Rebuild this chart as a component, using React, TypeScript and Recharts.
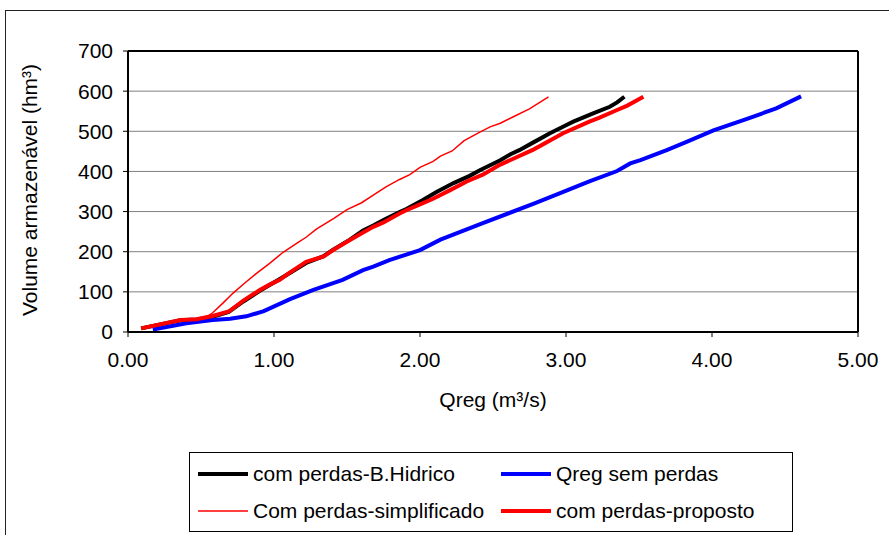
import { CartesianGrid, Legend, Line, LineChart, ReferenceLine, XAxis, YAxis } from 'recharts';

const FONT = '"Liberation Sans", Arial, sans-serif';

// com perdas - balanço hídrico
const hidricoQ = [0.09, 0.36, 0.47, 0.58, 0.69, 0.79, 0.9, 0.97, 1.04, 1.1, 1.22, 1.34, 1.4, 1.52, 1.61, 1.68, 1.75, 1.86, 1.91, 2.02, 2.11, 2.23, 2.34, 2.41, 2.55, 2.62, 2.68, 2.78, 2.89, 3.0, 3.05, 3.19, 3.3, 3.35, 3.4];
const hidricoV = [9, 29, 31, 38, 50, 76, 102, 117, 132, 145, 172, 189, 204, 230, 253, 265, 279, 299, 307, 329, 348, 371, 389, 403, 428, 443, 453, 473, 495, 515, 524, 545, 561, 572, 586];

// sem perdas
const semPerdasQ = [0.17, 0.4, 0.58, 0.7, 0.81, 0.93, 1.11, 1.27, 1.47, 1.61, 1.68, 1.79, 2.0, 2.14, 2.43, 2.78, 2.96, 3.16, 3.35, 3.44, 3.51, 3.69, 3.83, 4.01, 4.24, 4.44, 4.61];
const semPerdasV = [6, 22, 30, 33, 39, 52, 82, 105, 130, 154, 163, 179, 204, 230, 271, 320, 346, 375, 401, 420, 428, 453, 474, 502, 531, 557, 587];

// com perdas - simplificado
const simplesQ = [0.09, 0.36, 0.47, 0.55, 0.58, 0.65, 0.72, 0.8, 0.88, 0.97, 1.06, 1.16, 1.22, 1.29, 1.41, 1.5, 1.6, 1.68, 1.77, 1.86, 1.93, 2.0, 2.09, 2.14, 2.22, 2.3, 2.4, 2.48, 2.55, 2.65, 2.75, 2.88];
const simplesV = [9, 30, 32, 40, 48, 72, 97, 122, 146, 171, 198, 222, 236, 256, 283, 305, 322, 341, 362, 380, 392, 410, 425, 438, 451, 476, 496, 511, 520, 538, 556, 586];

// com perdas - proposto
const propostoQ = [0.09, 0.36, 0.47, 0.58, 0.69, 0.79, 0.9, 0.97, 1.04, 1.1, 1.22, 1.34, 1.4, 1.52, 1.61, 1.68, 1.75, 1.86, 1.91, 2.0, 2.09, 2.21, 2.32, 2.43, 2.55, 2.78, 2.98, 3.16, 3.23, 3.35, 3.42, 3.53];
const propostoV = [9, 30, 32, 40, 51, 78, 104, 118, 130, 146, 175, 188, 203, 229, 248, 262, 273, 295, 304, 318, 332, 354, 375, 392, 417, 455, 495, 524, 534, 553, 564, 586];

const xTicks = [0, 1, 2, 3, 4, 5];
const yTicks = [0, 100, 200, 300, 400, 500, 600, 700];

type Pt = { q: number; v: number };
const zip = (q: number[], v: number[]): Pt[] => q.map((x, i) => ({ q: x, v: v[i] }));

const series = [
  { name: 'com perdas-B.Hidrico', data: zip(hidricoQ, hidricoV), color: '#000000', width: 4 },
  { name: 'Qreg sem perdas', data: zip(semPerdasQ, semPerdasV), color: '#0000ff', width: 4 },
  { name: 'Com perdas-simplificado', data: zip(simplesQ, simplesV), color: '#ff0000', width: 1.5 },
  { name: 'com perdas-proposto', data: zip(propostoQ, propostoV), color: '#ff0000', width: 4 },
];

function LegendBox() {
  return (
    <div
      style={{
        width: 604,
        height: 80,
        boxSizing: 'border-box',
        border: '1px solid #000',
        background: '#fff',
        paddingTop: 2,
        display: 'grid',
        gridTemplateColumns: '303px 1fr',
        gridAutoRows: 37,
        fontFamily: FONT,
        fontSize: 21,
        color: '#000',
      }}
    >
      {series.map((s) => (
        <div key={s.name} style={{ display: 'flex', alignItems: 'center', paddingLeft: 8 }}>
          <svg width={50} height={10}>
            <line x1={0} x2={50} y1={5} y2={5} stroke={s.color} strokeWidth={s.width} />
          </svg>
          <span style={{ marginLeft: 5, whiteSpace: 'nowrap', lineHeight: 1 }}>{s.name}</span>
        </div>
      ))}
    </div>
  );
}

export default function App() {
  return (
    <div style={{ position: 'fixed', left: 0, top: 0, width: 889, height: 535, overflow: 'hidden', background: '#fff' }}>
      <div style={{ position: 'absolute', left: 5, top: 10, width: 1000, height: 1000, border: '1px solid #222' }} />
      <div style={{ position: 'absolute', left: 0, top: 0 }}>
        <LineChart width={889} height={535} margin={{ top: 51, right: 31, left: 0, bottom: 143 }}>
          <CartesianGrid vertical={false} stroke='#808080' strokeWidth={1} />
          <XAxis
            type='number'
            dataKey='q'
            domain={[0, 5]}
            ticks={xTicks}
            allowDuplicatedCategory={false}
            tickFormatter={(t: number) => t.toFixed(2)}
            height={60}
            tickSize={5}
            tickMargin={15}
            axisLine={{ stroke: '#000', strokeWidth: 2 }}
            tickLine={{ stroke: '#000' }}
            tick={{ fill: '#000', fontSize: 21, fontFamily: FONT }}
            label={{
              content: () => (
                <text x={493} y={407} textAnchor='middle' fill='#000' fontSize={21} fontFamily={FONT}>
                  Qreg (m³/s)
                </text>
              ),
            }}
          />
          <YAxis
            type='number'
            domain={[0, 700]}
            ticks={yTicks}
            width={128}
            tickSize={5}
            tickMargin={10}
            axisLine={{ stroke: '#000', strokeWidth: 2 }}
            tickLine={{ stroke: '#000' }}
            tick={{ fill: '#000', fontSize: 21, fontFamily: FONT }}
            label={{
              content: () => (
                <text
                  transform='translate(37,190) rotate(-90)'
                  textAnchor='middle'
                  fill='#000'
                  fontSize={21}
                  fontFamily={FONT}
                >
                  Volume armazenável (hm³)
                </text>
              ),
            }}
          />
          <ReferenceLine y={700} stroke='#000' strokeWidth={2} />
          <ReferenceLine x={5} stroke='#000' strokeWidth={2} />
          {series.map((s) => (
            <Line
              key={s.name}
              data={s.data}
              dataKey='v'
              name={s.name}
              type='linear'
              stroke={s.color}
              strokeWidth={s.width}
              dot={false}
              activeDot={false}
              isAnimationActive={false}
            />
          ))}
          <Legend
            layout='horizontal'
            verticalAlign='middle'
            align='center'
            wrapperStyle={{ position: 'absolute', left: 189, top: 452, width: 604, height: 80, margin: 0 }}
            content={() => <LegendBox />}
          />
        </LineChart>
      </div>
    </div>
  );
}
